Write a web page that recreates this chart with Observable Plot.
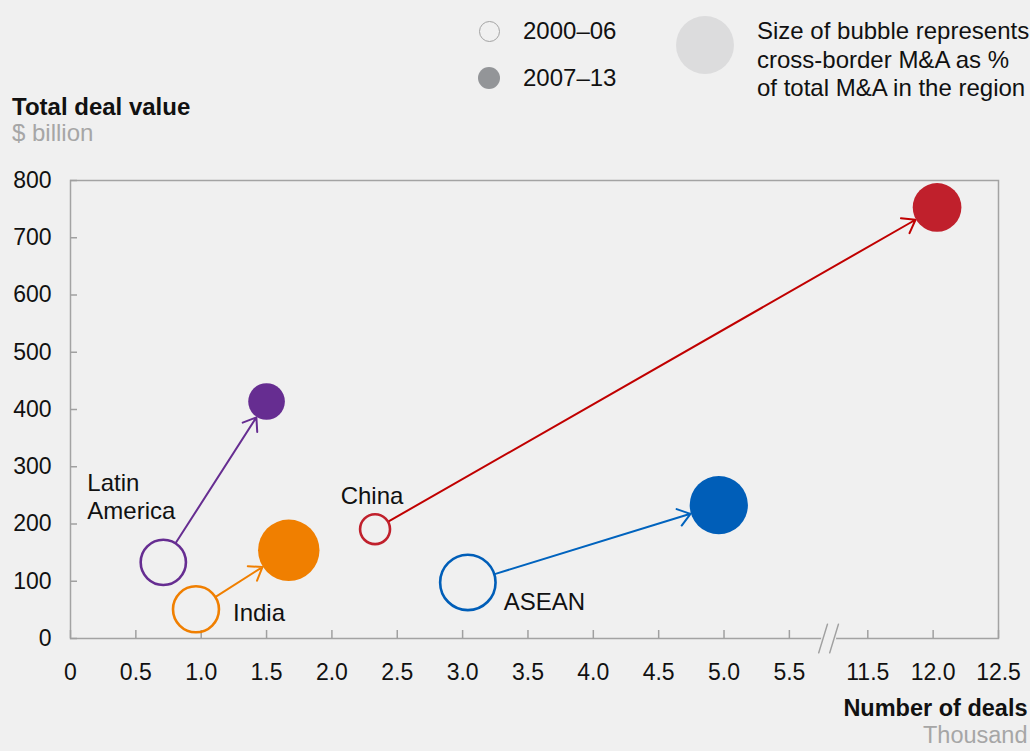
<!DOCTYPE html>
<html><head><meta charset="utf-8">
<script src="https://cdn.jsdelivr.net/npm/d3@7"></script>
<script src="https://cdn.jsdelivr.net/npm/@observablehq/plot@0.6"></script>
<style>
html,body{margin:0;padding:0;background:#f0f0f0;}
body{font-family:"Liberation Sans",Arial,sans-serif;color:#111;}
#wrap{width:1030px;height:751px;overflow:hidden;background:#f0f0f0;}
#head{position:relative;width:1030px;height:150px;}
.t{position:absolute;white-space:nowrap;}
.c{position:absolute;border-radius:50%;box-sizing:border-box;}
svg{display:block;}
</style></head><body><div id="wrap"><div id="head"></div></div>
<script>
// ---------- data ----------
const regions      = ["Latin America", "India", "China", "ASEAN"];
const regionLabels = ["Latin\nAmerica", "India", "China", "ASEAN"];
const regionColors = ["#662d91", "#f07f00", "#c0202c", "#005eb8"];
const arrowColors  = ["#662d91", "#f07f00", "#c00000", "#0063be"];
const periods      = ["2000–06", "2007–13"];
// number of deals, thousand
const deals2000 = [0.71, 0.96, 2.33, 3.04];
const deals2007 = [1.50, 1.67, 12.03, 4.96];
// total deal value, $ billion
const value2000 = [133, 51, 191, 98];
const value2007 = [414, 154, 753, 233];
// cross-border M&A as % of total M&A (bubble size)
const share2000 = [32, 33, 14, 48];
const share2007 = [21, 59, 37, 53];
const xTicks = [0, 0.5, 1, 1.5, 2, 2.5, 3, 3.5, 4, 4.5, 5, 5.5, 11.5, 12, 12.5];
const yTicks = [0, 100, 200, 300, 400, 500, 600, 700, 800];
const breakLow = 5.8, breakHigh = 11.2;   // axis break: 5.8 … 11.2 are skipped
const yTitle = ["Total deal value", "$ billion"];
const xTitle = ["Number of deals", "Thousand"];
const sizeNote = ["Size of bubble represents", "cross-border M&A as %", "of total M&A in the region"];

// ---------- helpers ----------
const gap = breakHigh - breakLow;
const toDisplay = v => v <= breakLow ? v : v - gap;
const fromDisplay = d => d <= breakLow + 1e-9 ? d : d + gap;
const fmt = v => v === 0 ? "0" : (Math.round(v * 10) / 10).toFixed(1);
const rOpts = {type: "sqrt", domain: [0, 100], range: [0, 40]};
const radius = d3.scaleSqrt().domain(rOpts.domain).range(rOpts.range);

const rows = [];
regions.forEach((name, i) => {
  rows.push({region: name, period: periods[0], x: toDisplay(deals2000[i]), y: value2000[i], share: share2000[i], color: regionColors[i]});
  rows.push({region: name, period: periods[1], x: toDisplay(deals2007[i]), y: value2007[i], share: share2007[i], color: regionColors[i]});
});
const early = rows.filter(d => d.period === periods[0]);
const late  = rows.filter(d => d.period === periods[1]);

// ---------- header (legend + y title) ----------
const head = document.getElementById("head");
function addText(txt, css) {
  const el = document.createElement("div");
  el.className = "t"; el.textContent = txt;
  Object.assign(el.style, css);
  head.appendChild(el); return el;
}
function addCircle(cx, cy, r, css) {
  const el = document.createElement("div");
  el.className = "c";
  Object.assign(el.style, {left: (cx - r) + "px", top: (cy - r) + "px", width: 2 * r + "px", height: 2 * r + "px"}, css);
  head.appendChild(el);
}
addCircle(489, 31, 10.5, {border: "1.5px solid #a3a3a3"});
addCircle(489, 78, 11, {background: "#939598"});
addText(periods[0], {left: "523px", top: (31 - 15) + "px", fontSize: "24px", lineHeight: "30px"});
addText(periods[1], {left: "523px", top: (78 - 15) + "px", fontSize: "24px", lineHeight: "30px"});
addCircle(705, 44.5, 29, {background: "#dcdcdd"});
sizeNote.forEach((s, i) => addText(s, {left: "757px", top: (31 + 28.5 * i - 15) + "px", fontSize: "24px", lineHeight: "30px"}));
addText(yTitle[0], {left: "12px", top: (107 - 15) + "px", fontSize: "24px", lineHeight: "30px", fontWeight: "bold"});
addText(yTitle[1], {left: "12px", top: (133 - 15) + "px", fontSize: "24px", lineHeight: "30px", color: "#a6a6a6"});

// ---------- chart ----------
const lineShape = {draw(ctx, l) { ctx.moveTo(0, 0); ctx.lineTo(0, -l); }};
const labelLayout = [
  {dx: -76, dy: -66, textAnchor: "start"},
  {dx: 37, dy: 3, textAnchor: "start"},
  {dx: -3, dy: -34, textAnchor: "middle"},
  {dx: 36, dy: 19, textAnchor: "start"}
];

const chart = Plot.plot({
  width: 1030,
  height: 601,
  marginLeft: 70,
  marginRight: 32,
  marginTop: 30,
  marginBottom: 113,
  style: {fontFamily: "'Liberation Sans', Arial, sans-serif", fontSize: "23px", background: "transparent", color: "#111", overflow: "visible"},
  x: {domain: [0, toDisplay(12.5)], label: null},
  y: {domain: [0, 800], label: null},
  r: rOpts,
  color: {type: "identity"},
  marks: [
    Plot.frame({stroke: "#a3a3a3", strokeWidth: 1.5}),
    Plot.axisY(yTicks, {anchor: "left", tickSize: -7, tickPadding: 26, stroke: "#a0a0a0", strokeWidth: 1.5, fill: "#111", fontSize: 23, label: null}),
    Plot.axisX(xTicks.map(toDisplay), {anchor: "bottom", tickSize: -8, tickPadding: 33, stroke: "#a0a0a0", strokeWidth: 1.5, fill: "#111", fontSize: 23, label: null, tickFormat: d => fmt(fromDisplay(d))}),
    // axis break
    Plot.vector([breakLow], {x: d => d, y: 0, length: 11, rotate: 90, anchor: "middle", shape: lineShape, stroke: "#f0f0f0", strokeWidth: 4}),
    Plot.vector([breakLow], {x: d => d, y: 0, length: 30, rotate: 17, anchor: "middle", shape: lineShape, stroke: "#a0a0a0", strokeWidth: 1.5, dx: -5.5}),
    Plot.vector([breakLow], {x: d => d, y: 0, length: 30, rotate: 17, anchor: "middle", shape: lineShape, stroke: "#a0a0a0", strokeWidth: 1.5, dx: 5.5}),
    // arrows
    ...regions.map((name, i) => Plot.arrow([i], {
      x1: j => toDisplay(deals2000[j]), y1: j => value2000[j],
      x2: j => toDisplay(deals2007[j]), y2: j => value2007[j],
      stroke: arrowColors[i], strokeWidth: 2, headLength: 11, headAngle: 72,
      insetStart: radius(share2000[i]) + 1.2, insetEnd: radius(share2007[i]) + 0.5
    })),
    // bubbles
    Plot.dot(early, {x: "x", y: "y", r: "share", stroke: "color", fill: "none", strokeWidth: 2.6}),
    Plot.dot(late, {x: "x", y: "y", r: "share", fill: "color", stroke: "none"}),
    // region labels
    ...regions.map((name, i) => Plot.text([i], {
      x: j => toDisplay(deals2000[j]), y: j => value2000[j], text: j => regionLabels[j],
      fontSize: 24, fill: "#111", lineHeight: 1.17, lineAnchor: "middle", ...labelLayout[i]
    })),
    // x title
    Plot.text([xTitle[0]], {frameAnchor: "bottom-right", textAnchor: "end", dx: 29, dy: 77, fontWeight: "bold", fontSize: 23.5, fill: "#111"}),
    Plot.text([xTitle[1]], {frameAnchor: "bottom-right", textAnchor: "end", dx: 29, dy: 104, fontSize: 23.5, fill: "#a6a6a6"})
  ]
});
document.getElementById("wrap").appendChild(chart);
</script>
</body></html>
